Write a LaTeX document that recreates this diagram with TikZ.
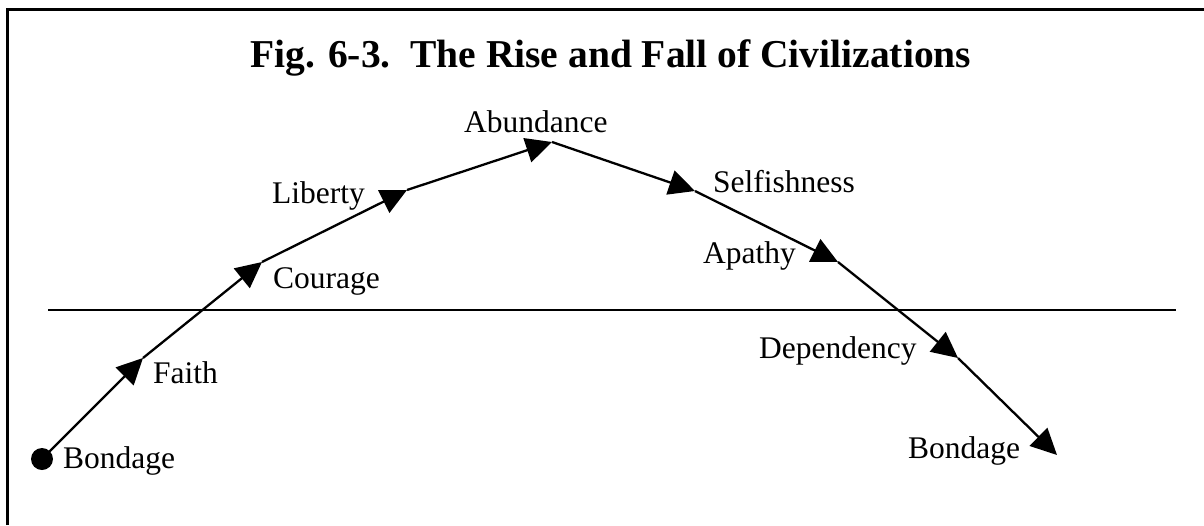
\documentclass[tikz,border=0pt]{standalone}
\usepackage{fontspec}
\setmainfont{Liberation Serif}
\usetikzlibrary{arrows.meta}
\tikzset{
  seg/.style={line width=2.3pt, -{Triangle[length=26pt,width=25pt]}},
  lbl/.style={anchor=base west, inner sep=0pt, font=\fontsize{31.5}{36}\selectfont},
  ttl/.style={anchor=base west, inner sep=0pt, font=\fontsize{39.5}{46}\selectfont\bfseries},
  frame/.style={line width=2.6pt},
  axis/.style={line width=2.2pt},
}
\begin{document}
\begin{tikzpicture}[x=1pt,y=-1pt]
\useasboundingbox (0,0) rectangle (1204,525);
% frame (top and left edges)
\coordinate (fbl) at (7.5,525);
\coordinate (ftl) at (7.5,9.2);
\coordinate (ftr) at (1204,9.2);
\draw[frame] (fbl) -- (ftl) -- (ftr);
% title
\node[ttl] (title) at (250,67) {Fig. 6-3.\ \ The Rise and Fall of Civilizations};
% horizontal line
\coordinate (hl) at (48,310);
\coordinate (hr) at (1176,310);
\draw[axis] (hl) -- (hr);
% path vertices
\coordinate (p0) at (42,459);
\coordinate (p1) at (143,358);
\coordinate (p2) at (262,262);
\coordinate (p3) at (407,190);
\coordinate (p4) at (552,142);
\coordinate (p5) at (695,191);
\coordinate (p6) at (838,262);
\coordinate (p7) at (958,358);
\coordinate (p8) at (1057,455);
% start dot
\node[circle, fill=black, minimum size=22pt, inner sep=0pt] (dot) at (p0) {};
\draw[seg] (p0) -- (p1);
\draw[seg] (p1) -- (p2);
\draw[seg] (p2) -- (p3);
\draw[seg] (p3) -- (p4);
\draw[seg] (p4) -- (p5);
\draw[seg] (p5) -- (p6);
\draw[seg] (p6) -- (p7);
\draw[seg] (p7) -- (p8);
% labels
\node[lbl] (bondageA) at (63,468) {Bondage};
\node[lbl] (faith) at (153,383) {Faith};
\node[lbl] (courage) at (273,288) {Courage};
\node[lbl] (liberty) at (272,203) {Liberty};
\node[lbl] (abundance) at (464,132) {Abundance};
\node[lbl] (selfish) at (713,192) {Selfishness};
\node[lbl] (apathy) at (703,263) {Apathy};
\node[lbl] (depend) at (759,358) {Dependency};
\node[lbl] (bondageB) at (908,458) {Bondage};
\end{tikzpicture}
\end{document}
